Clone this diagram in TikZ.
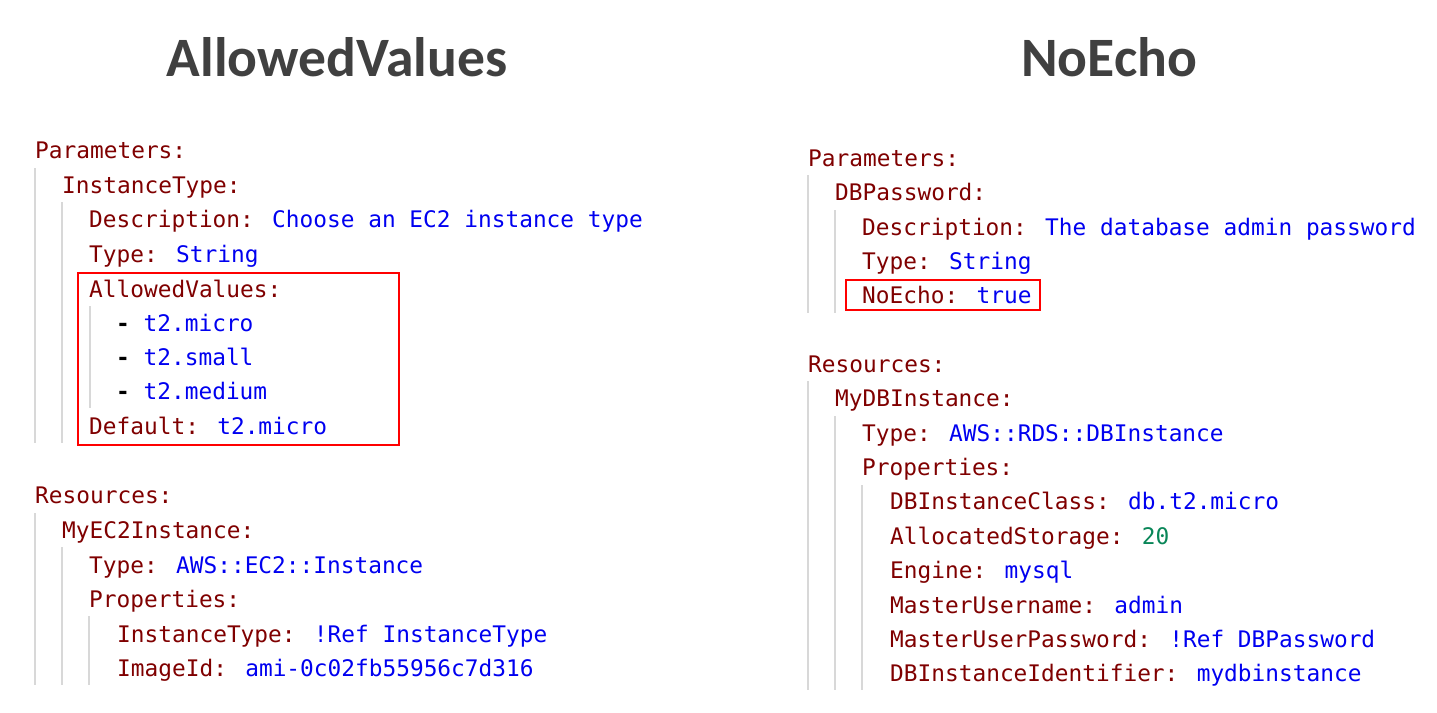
\documentclass[tikz,border=0pt]{standalone}
\usepackage{fontspec}
\setmainfont{Carlito}
\newfontfamily\codefont{DejaVu Sans Mono}
\definecolor{keyc}{HTML}{7F0000}
\definecolor{valc}{HTML}{0000F0}
\definecolor{numc}{HTML}{098658}
\definecolor{guide}{HTML}{D8D8D8}
\definecolor{titlec}{HTML}{404040}
\newcommand{\K}[1]{\textcolor{keyc}{#1}}
\newcommand{\V}[1]{\textcolor{valc}{#1}}
\tikzset{code/.style={anchor=base west,inner sep=0pt,font=\codefont\fontsize{22.8}{23}\selectfont},
 ttl/.style={font=\fontsize{55.6}{56}\selectfont\bfseries,text=titlec},
 guideline/.style={guide,line width=2pt},
 hl/.style={red,line width=2.4pt}}
\begin{document}
\begin{tikzpicture}[x=1pt,y=-1pt]
\useasboundingbox (0,0) rectangle (1437,712);
\node[ttl] (t1) at (337,57) {AllowedValues};
\node[ttl] (t2) at (1109,57) {NoEcho};
% left guides
\draw[guideline] (35,168) -- (35,443);
\draw[guideline] (62,202) -- (62,443);
\draw[guideline] (90,306) -- (90,408);
\draw[guideline] (35,513) -- (35,685);
\draw[guideline] (62,547) -- (62,685);
\draw[guideline] (89,616) -- (89,685);
% right guides
\draw[guideline] (808,175) -- (808,313);
\draw[guideline] (835,210) -- (835,313);
\draw[guideline] (808,381) -- (808,690);
\draw[guideline] (835,416) -- (835,690);
\draw[guideline] (862,485) -- (862,690);
% left code
\node[code] (a1) at (35,158) {\K{Parameters:}};
\node[code] (a2) at (62,193) {\K{InstanceType:}};
\node[code] (a3) at (89,227) {\K{Description:} \V{Choose an EC2 instance type}};
\node[code] (a4) at (89,262) {\K{Type:} \V{String}};
\node[code] (a5) at (89,297) {\K{AllowedValues:}};
\node[code] (a6) at (116,331) {\textbf{-} \V{t2.micro}};
\node[code] (a7) at (116,365) {\textbf{-} \V{t2.small}};
\node[code] (a8) at (116,399) {\textbf{-} \V{t2.medium}};
\node[code] (a9) at (89,434) {\K{Default:} \V{t2.micro}};
\node[code] (a10) at (35,503) {\K{Resources:}};
\node[code] (a11) at (62,538) {\K{MyEC2Instance:}};
\node[code] (a12) at (89,573) {\K{Type:} \V{AWS::EC2::Instance}};
\node[code] (a13) at (89,607) {\K{Properties:}};
\node[code] (a14) at (117,642) {\K{InstanceType:} \V{!Ref InstanceType}};
\node[code] (a15) at (117,676) {\K{ImageId:} \V{ami-0c02fb55956c7d316}};
\draw[hl] (78,273) rectangle (399,445);
% right code
\node[code] (b1) at (808,166) {\K{Parameters:}};
\node[code] (b2) at (835,200) {\K{DBPassword:}};
\node[code] (b3) at (862,235) {\K{Description:} \V{The database admin password}};
\node[code] (b4) at (862,269) {\K{Type:} \V{String}};
\node[code] (b5) at (862,303) {\K{NoEcho:} \V{true}};
\draw[hl] (846,280) rectangle (1040,310);
\node[code] (b6) at (808,372) {\K{Resources:}};
\node[code] (b7) at (835,406) {\K{MyDBInstance:}};
\node[code] (b8) at (862,441) {\K{Type:} \V{AWS::RDS::DBInstance}};
\node[code] (b9) at (862,475) {\K{Properties:}};
\node[code] (b10) at (890,509) {\K{DBInstanceClass:} \V{db.t2.micro}};
\node[code] (b11) at (890,544) {\K{AllocatedStorage:} \textcolor{numc}{20}};
\node[code] (b12) at (890,578) {\K{Engine:} \V{mysql}};
\node[code] (b13) at (890,613) {\K{MasterUsername:} \V{admin}};
\node[code] (b14) at (890,647) {\K{MasterUserPassword:} \V{!Ref DBPassword}};
\node[code] (b15) at (890,681) {\K{DBInstanceIdentifier:} \V{mydbinstance}};
\end{tikzpicture}
\end{document}
